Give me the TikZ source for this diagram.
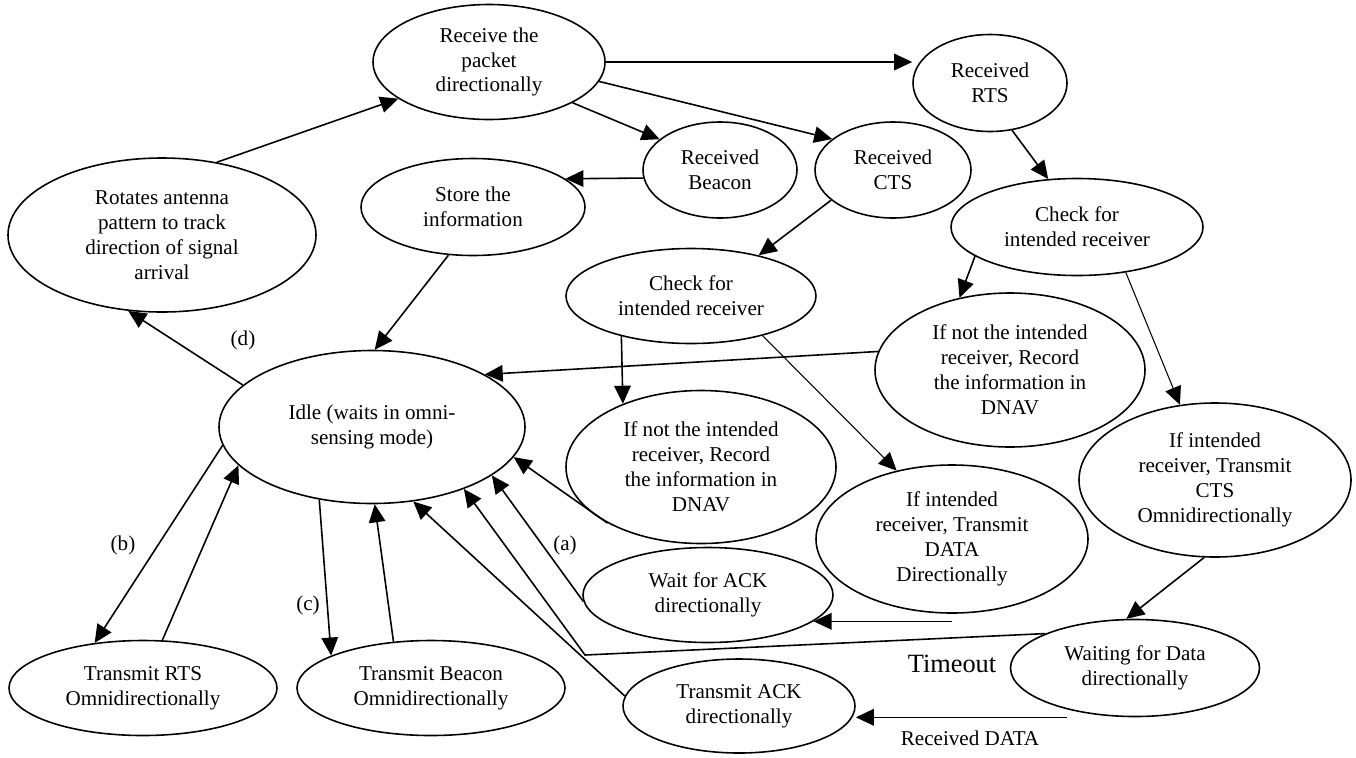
\documentclass[tikz,border=0pt]{standalone}
\usepackage{fontspec}
\setmainfont{Liberation Serif}
\usetikzlibrary{shapes.geometric,arrows.meta}

\begin{document}
\begin{tikzpicture}[x=0.2mm,y=-0.2mm,
  st/.style={draw,ellipse,line width=0.9pt,inner sep=0pt,align=center,font=\fontsize{12}{14.2}\selectfont},
  arr/.style={line width=0.9pt,-{Triangle[length=3.6mm,width=3.3mm]}},
  lab/.style={font=\fontsize{12}{14}\selectfont}]
\useasboundingbox (0,0) rectangle (1356,757);
\node[st,minimum width=46.4mm,minimum height=23mm] (pkt) at (489,62) {Receive the\\packet\\directionally};
\node[st,minimum width=30.8mm,minimum height=19.4mm] (rts) at (990,83) {Received\\RTS};
\node[st,minimum width=30.8mm,minimum height=19.2mm] (bcn) at (720,170) {Received\\Beacon};
\node[st,minimum width=31.2mm,minimum height=19.2mm] (cts) at (893,170) {Received\\CTS};
\node[st,minimum width=61.6mm,minimum height=30.8mm] (rot) at (162,235) {Rotates antenna\\pattern to track\\direction of signal\\arrival};
\node[st,minimum width=44.8mm,minimum height=19.4mm] (store) at (473,207) {Store the\\information};
\node[st,minimum width=50.4mm,minimum height=19.4mm] (chkR) at (1077,227) {Check for\\intended receiver};
\node[st,minimum width=50mm,minimum height=19mm] (chkL) at (691,296) {Check for\\intended receiver};
\node[st,minimum width=54mm,minimum height=30.8mm] (nR) at (1010,370) {If not the intended\\receiver, Record\\the information in\\DNAV};
\node[st,minimum width=54mm,minimum height=30.6mm] (nL) at (701,467) {If not the intended\\receiver, Record\\the information in\\DNAV};
\node[st,minimum width=61.2mm,minimum height=30.6mm] (idle) at (372,427) {Idle (waits in omni-\\sensing mode)};
\node[st,minimum width=54.4mm,minimum height=29.6mm] (data) at (952,539) {If intended\\receiver, Transmit\\DATA\\Directionally};
\node[st,minimum width=54.4mm,minimum height=30.8mm] (cts2) at (1215,480) {If intended\\receiver, Transmit\\CTS\\Omnidirectionally};
\node[st,minimum width=50mm,minimum height=19mm] (ack) at (708,595) {Wait for ACK\\directionally};
\node[st,minimum width=49.8mm,minimum height=19.4mm] (wdata) at (1135,668) {Waiting for Data\\directionally};
\node[st,minimum width=46.4mm,minimum height=18.8mm] (tack) at (739,706) {Transmit ACK\\directionally};
\node[st,minimum width=53.6mm,minimum height=19mm] (trts) at (143,688) {Transmit RTS\\Omnidirectionally};
\node[st,minimum width=53.6mm,minimum height=19mm] (tbcn) at (431,688) {Transmit Beacon\\Omnidirectionally};
\coordinate (bend) at (585,655);
\draw[arr] (rot.53) -- (pkt.202);
\draw[arr] (pkt.east) -- (pkt.east -| rts.west);
\draw[arr] (pkt.-10) -- (cts.153);
\draw[arr] (pkt.-26) -- (bcn.153);
\draw[arr] (bcn.186) -- (store.17);
\draw[arr] (store.243) -- (idle.88);
\draw[arr] (idle.162) -- (rot.246);
\draw[arr] (cts.206) -- (chkL.31);
\draw[arr] (rts.-65) -- (chkR.121);
\draw[arr] (chkR.196) -- (nR.125);
\draw[arr,line width=0.6pt] (chkR.-43) -- (cts2.115);
\draw[arr] (nR.172) -- (idle.25);
\draw[arr] (chkL.210) -- (nL.141);
\draw[arr,line width=0.6pt] (chkL.-29) -- (data.129);
\draw[arr] (cts2.-98) -- (wdata.100);
\draw[arr] (ack.-14 -| data.south) -- (ack.-14);
\draw[arr] (nL.211) -- (idle.-12);
\draw[arr] (ack.183) -- (idle.-22);
\draw[arr] (wdata.159) -- (bend) -- (idle.-34);
\draw[arr] ([xshift=-13.6mm]wdata.south) -- (tack.east |- wdata.south);
\draw[arr] (tack.175) -- (idle.-61);
\draw[arr] (idle.187) -- (trts.137);
\draw[arr] (trts.68) -- (idle.196);
\draw[arr] (idle.234) -- (tbcn.162);
\draw[arr] (tbcn.129) -- (idle.-88);
\node[lab] (la) at (565,545) {(a)};
\node[lab] (lb) at (123,545) {(b)};
\node[lab] (lc) at (308,605) {(c)};
\node[lab] (ld) at (243,340) {(d)};
\node[font=\fontsize{15}{18}\selectfont] (tout) at (952,664) {Timeout};
\node[lab] (rdata) at (970,738) {Received DATA};
\end{tikzpicture}
\end{document}
